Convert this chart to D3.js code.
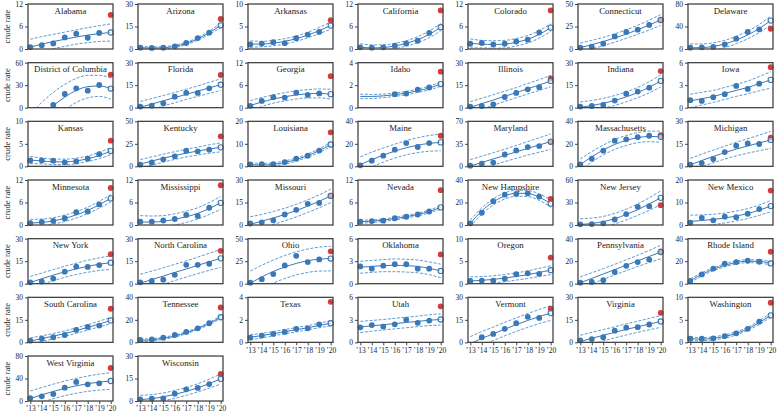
<!DOCTYPE html>
<html>
<head>
<meta charset="utf-8">
<script src="https://cdn.jsdelivr.net/npm/d3@7"></script>
<style>
  body { margin: 0; background: #fff; }
  text { font-family: "Liberation Serif", "Times New Roman", serif; fill: #222; }
</style>
</head>
<body>
<svg width="777" height="415"></svg>
<script>
const years = [2013, 2014, 2015, 2016, 2017, 2018, 2019, 2020];
const yearLabels = ["\u201913", "\u201914", "\u201915", "\u201916", "\u201917", "\u201918", "\u201919", "\u201920"];

const states = ["Alabama", "Arizona", "Arkansas", "California", "Colorado", "Connecticut", "Delaware",
  "District of Columbia", "Florida", "Georgia", "Idaho", "Illinois", "Indiana", "Iowa",
  "Kansas", "Kentucky", "Louisiana", "Maine", "Maryland", "Massachusetts", "Michigan",
  "Minnesota", "Mississippi", "Missouri", "Nevada", "New Hampshire", "New Jersey", "New Mexico",
  "New York", "North Carolina", "Ohio", "Oklahoma", "Oregon", "Pennsylvania", "Rhode Island",
  "South Carolina", "Tennessee", "Texas", "Utah", "Vermont", "Virginia", "Washington",
  "West Virginia", "Wisconsin"];

const yMax = [12, 30, 10, 12, 12, 50, 80,
  60, 30, 12, 4, 30, 30, 6,
  10, 50, 20, 40, 70, 40, 30,
  12, 12, 30, 12, 40, 60, 20,
  30, 30, 50, 6, 10, 40, 40,
  30, 40, 4, 6, 30, 30, 10,
  80, 30];

// observed crude rate 2013-2019
const observed = [
  [0.5, 1.0, 1.5, 3.1, 4.1, 3.0, 4.3],
  [0.9, 0.7, 0.9, 1.8, 4.0, 7.3, 10.9],
  [1.0, 1.2, 1.5, 1.3, 2.4, 3.2, 3.8],
  [0.45, 0.35, 0.45, 0.9, 1.5, 2.2, 4.3],
  [1.4, 1.6, 1.2, 1.4, 2.0, 2.5, 4.4],
  [1.5, 2.6, 5.9, 14, 18.9, 21.5, 26.7],
  [2.4, 3.0, 3.6, 8.3, 18.4, 30.2, 34.9],
  [null, null, 3.6, 18.2, 25.8, 22.7, 30.2],
  [0.7, 1.3, 2.9, 7.3, 9.8, 9.8, 12.9],
  [0.5, 1.8, 2.8, 2.7, 4.0, 3.4, 3.8],
  [null, null, null, 1.2, 1.25, 1.6, 1.8],
  [0.7, 1.1, 2.2, 7.1, 9.8, 12.2, 13.6],
  [0.7, 1.1, 1.8, 4.7, 9.3, 10.7, 13.3],
  [1.0, 0.9, 1.4, 1.8, 2.9, 2.5, 3.2],
  [1.3, 1.3, 1.25, 0.9, 1.1, 1.7, 2.7],
  [1.9, 4.4, 7.8, 11.1, 17.4, 16.7, 18.5],
  [0.9, 1.0, 1.0, 1.9, 3.4, 4.7, 7.0],
  [0.9, 5.0, 9.5, 14.8, 20.7, 17.2, 20.7],
  [1.0, 4.2, 5.8, 18.4, 24.7, 30, 31.6],
  [1.8, 6.8, 13.9, 22.8, 24, 26, 27.2],
  [1.1, 2.2, 4.9, 9.5, 13.8, 15.3, 14.9],
  [0.5, 0.8, 1.1, 1.8, 3.4, 3.6, 5.5],
  [0.9, 0.9, 1.2, 1.6, 2.7, 2.4, 4.6],
  [1.0, 1.8, 3.1, 7.0, 10.1, 14.1, 14.7],
  [0.9, 1.05, 1.15, 1.8, 2.2, 2.8, 3.6],
  [1.5, 10.9, 21.2, 27, 27.6, 28.2, 25.3],
  [0.9, 1.3, 2.2, 7.5, 14.6, 24.3, 25.1],
  [1.0, 3.2, 2.1, 3.7, 3.5, 5.0, 7.1],
  [0.9, 1.4, 3.4, 8.0, 11.4, 11.2, 12.4],
  [0.9, 1.8, 2.7, 5.9, 12.6, 12.6, 13.3],
  [1.1, 5, 10.7, 20.2, 30.9, 24, 27],
  [2.3, 2.0, 2.4, 2.6, 2.6, 2.0, 2.0],
  [0.6, 0.7, 0.7, 1.1, 2.1, 2.3, 2.2],
  [0.9, 1.5, 3.1, 10.4, 15.9, 19.2, 21.4],
  [2.4, 8.2, 13.4, 17.7, 19.2, 20.4, 19.5],
  [1.1, 2.5, 3.4, 4.9, 8.3, 10.3, 11.2],
  [2.1, 2.7, 4.2, 6.6, 9.3, 12.5, 17],
  [0.42, 0.6, 0.75, 0.93, 1.2, 1.25, 1.6],
  [2.0, 2.3, 2.1, 2.4, 3.0, 2.6, 2.9],
  [null, 3.4, 5.6, 9.0, 12.8, 17, 16.3],
  [1.3, 2.2, 3.4, 7.8, 9.8, 10.1, 11.9],
  [0.8, 0.8, 0.9, 1.4, 2.0, 3.0, 4.6],
  [5.3, 8.3, 12.4, 23.7, 33.8, 29.6, 31.4],
  [1.1, 1.6, 1.8, 4.9, 7.8, 8.7, 11.3]
];

// observed 2020 value (red)
const actual2020 = [9.1, 20, 6.4, 10.3, 10.3, 32, 36,
  44, 21.8, 8.4, 3.2, 19.5, 24.4, 5.4,
  5.7, 33.3, 15.1, 27.2, 37.9, 27.8, 19.1,
  9.9, 10.6, 19.5, 9.3, 23.2, 26.5, 15.3,
  19.7, 21.9, 35.9, 3.9, 5.8, 28.7, 28.4,
  22.4, 31, 3.6, 4.8, 22.4, 19.7, 8.8,
  58.7, 18];

// fitted trend 2013-2020 (last value = 2020 prediction)
const fitted = [
  [0.5, 1.3, 2.0, 2.6, 3.2, 3.7, 4.1, 4.4],
  [1.0, 0.6, 0.8, 1.8, 3.7, 6.8, 10.8, 15.8],
  [1.1, 1.1, 1.3, 1.7, 2.3, 3.1, 4.1, 5.2],
  [0.5, 0.3, 0.4, 0.8, 1.5, 2.5, 3.9, 5.8],
  [1.5, 1.3, 1.2, 1.3, 1.8, 2.6, 3.9, 5.7],
  [1.5, 4.8, 8.3, 12.2, 16.6, 21.4, 26.6, 32.2],
  [2, 2.5, 4.5, 9, 16, 25, 36.5, 50.5],
  [-30, -12, 2.5, 14, 23, 28, 29, 25.5],
  [0.3, 2.4, 4.6, 6.7, 8.9, 11, 13.2, 15.3],
  [0.6, 1.5, 2.3, 2.9, 3.4, 3.7, 3.8, 3.6],
  [1.0, 1.0, 1.05, 1.15, 1.3, 1.5, 1.75, 2.1],
  [0.2, 2.7, 5.1, 7.6, 10, 12.6, 15.1, 17.8],
  [0.2, 1.4, 2.9, 4.8, 7.2, 10.1, 13.6, 17.8],
  [0.9, 1.2, 1.5, 1.9, 2.3, 2.7, 3.2, 3.7],
  [1.4, 1.2, 1.0, 1.0, 1.2, 1.7, 2.4, 3.4],
  [2.5, 5.9, 9.1, 12, 14.7, 17, 19.2, 21.1],
  [0.8, 0.6, 0.9, 1.7, 3.0, 4.8, 7.0, 9.7],
  [1.5, 6, 10, 13.5, 16.5, 18.8, 20.4, 21.3],
  [0.5, 6, 11.5, 17, 22.5, 28, 33.2, 38.4],
  [1.5, 8.5, 14.5, 19.5, 23, 25.5, 26.6, 26.3],
  [1.0, 3.9, 6.6, 9.1, 11.5, 13.6, 15.6, 17.6],
  [0.5, 0.7, 1.1, 1.8, 2.7, 3.9, 5.4, 7.1],
  [0.8, 0.8, 1.0, 1.5, 2.2, 3.1, 4.4, 5.9],
  [0.5, 2.5, 4.7, 7.0, 9.6, 12.6, 15.8, 19.4],
  [0.9, 1.0, 1.3, 1.7, 2.2, 2.8, 3.6, 4.7],
  [1.5, 12.5, 20.5, 25.8, 28.3, 28, 24.8, 19],
  [0.8, 2, 4.5, 8.5, 14, 20.5, 28, 36.2],
  [1.6, 2.0, 2.5, 3.1, 4.0, 5.1, 6.6, 8.4],
  [0.8, 3.3, 5.7, 7.9, 9.9, 11.6, 13, 14],
  [0.3, 2.7, 5.1, 7.5, 9.8, 12.2, 14.6, 16.9],
  [0.5, 7.5, 13.5, 18.5, 22.5, 25.5, 27.3, 27.9],
  [2.2, 2.3, 2.4, 2.45, 2.4, 2.3, 2.05, 1.7],
  [0.6, 0.75, 0.95, 1.25, 1.6, 2.0, 2.5, 3.0],
  [0.8, 4.7, 8.6, 12.5, 16.4, 20.3, 24.2, 28.1],
  [2.6, 8.3, 12.8, 16.3, 18.8, 20.0, 19.8, 18.0],
  [0.9, 2.5, 4.1, 5.9, 7.8, 10, 12.2, 14.6],
  [1.8, 2.3, 3.6, 5.6, 8.5, 12.3, 16.8, 22.3],
  [0.45, 0.6, 0.77, 0.95, 1.12, 1.3, 1.5, 1.7],
  [2.05, 2.2, 2.35, 2.5, 2.65, 2.8, 2.95, 3.05],
  [-1, 2.6, 5.7, 8.8, 11.8, 14.6, 17.2, 19.5],
  [0.5, 2.7, 4.7, 6.7, 8.6, 10.4, 12.2, 13.9],
  [0.8, 0.7, 0.9, 1.3, 2.0, 3.0, 4.4, 6.0],
  [4.5, 11, 17, 22.5, 27, 30.8, 33.6, 35.6],
  [0.9, 1.6, 2.8, 4.4, 6.4, 8.8, 11.6, 14.7]
];

// half width of the dashed interval around the trend
const bandHalf = [
  [2.1, 2.0, 1.9, 1.9, 1.9, 2.0, 2.1, 2.3],
  [0.9, 0.8, 0.8, 0.8, 0.8, 0.9, 1.1, 1.5],
  [0.7, 0.6, 0.6, 0.6, 0.6, 0.6, 0.7, 0.8],
  [0.9, 0.8, 0.7, 0.7, 0.7, 0.8, 0.9, 1.0],
  [1.2, 1.0, 1.0, 1.0, 1.0, 1.0, 1.0, 1.0],
  [5, 4.8, 4.6, 4.6, 4.7, 5, 5.5, 6],
  [7, 6.5, 6.5, 6.5, 6.5, 6.8, 7.3, 8],
  [20, 19, 18, 17, 16, 15, 14, 14],
  [3.9, 3.7, 3.5, 3.4, 3.4, 3.5, 3.7, 3.9],
  [1.3, 1.2, 1.1, 1.1, 1.1, 1.1, 1.2, 1.3],
  [0.2, 0.18, 0.16, 0.15, 0.15, 0.15, 0.17, 0.2],
  [3.8, 3.6, 3.5, 3.4, 3.4, 3.5, 3.6, 3.8],
  [3.6, 3.4, 3.3, 3.3, 3.3, 3.4, 3.7, 4.0],
  [0.9, 0.85, 0.8, 0.8, 0.8, 0.85, 0.95, 1.1],
  [0.8, 0.65, 0.6, 0.6, 0.6, 0.6, 0.7, 0.8],
  [5, 4.6, 4.4, 4.3, 4.3, 4.4, 4.7, 5],
  [0.8, 0.7, 0.7, 0.7, 0.7, 0.7, 0.8, 1.0],
  [7, 6.6, 6.3, 6.2, 6.3, 6.6, 7, 7.5],
  [10, 9.8, 9.7, 9.7, 10, 10.5, 11.2, 12],
  [5, 4.6, 4.4, 4.4, 4.4, 4.5, 4.7, 5],
  [4.3, 4.2, 4.2, 4.3, 4.5, 4.8, 5.2, 5.7],
  [1.0, 0.9, 0.85, 0.85, 0.85, 0.85, 0.9, 1.0],
  [1.7, 1.6, 1.5, 1.5, 1.5, 1.5, 1.6, 1.7],
  [5, 4.6, 4.3, 4.2, 4.2, 4.2, 4.3, 4.5],
  [0.4, 0.35, 0.35, 0.35, 0.35, 0.35, 0.4, 0.45],
  [3, 2.8, 2.7, 2.7, 2.7, 2.7, 2.9, 3.2],
  [7.6, 7.2, 7, 7, 7.2, 7.6, 8.3, 9.2],
  [2.8, 2.5, 2.3, 2.2, 2.2, 2.2, 2.3, 2.5],
  [4, 3.8, 3.7, 3.7, 3.8, 4, 4.2, 4.5],
  [6, 5.7, 5.5, 5.4, 5.4, 5.5, 5.7, 6],
  [13.5, 13, 12.8, 12.8, 12.8, 13, 13.3, 13.7],
  [0.8, 0.8, 0.8, 0.85, 0.85, 0.85, 0.85, 0.9],
  [0.9, 0.85, 0.8, 0.8, 0.8, 0.85, 0.9, 1.0],
  [5.3, 5, 4.8, 4.7, 4.8, 5, 5.4, 6],
  [1.6, 1.4, 1.3, 1.3, 1.3, 1.3, 1.4, 1.6],
  [2, 1.9, 1.8, 1.8, 1.8, 1.8, 1.9, 2.1],
  [1.1, 1.0, 0.9, 0.9, 0.9, 0.9, 1.0, 1.2],
  [0.22, 0.2, 0.19, 0.19, 0.19, 0.19, 0.2, 0.22],
  [0.75, 0.72, 0.7, 0.7, 0.7, 0.7, 0.72, 0.75],
  [4.8, 4.6, 4.5, 4.5, 4.5, 4.6, 4.7, 4.9],
  [4.2, 4.0, 3.8, 3.7, 3.7, 3.7, 3.8, 3.9],
  [0.4, 0.35, 0.35, 0.35, 0.35, 0.35, 0.4, 0.45],
  [13.3, 13, 13, 13, 13.2, 13.6, 14.2, 14.8],
  [2.9, 2.7, 2.6, 2.6, 2.6, 2.7, 3.0, 3.3]
];

const blue = "#3a78b6", dashBlue = "#4a8fd0", red = "#d83a3a";
const ncol = 7, left0 = 28, colStep = 110, top0 = 4, rowStep = 58.67;
const pw = 85, ph = 45;

const svg = d3.select("svg");
svg.append("defs").append("clipPath").attr("id", "clip")
  .append("rect").attr("width", pw).attr("height", ph);

const x = d3.scaleLinear().domain([2012.8, 2020.2]).range([0, pw]);

states.forEach((name, i) => {
  const col = i % ncol, row = Math.floor(i / ncol);
  const g = svg.append("g")
    .attr("transform", `translate(${left0 + col * colStep},${top0 + row * rowStep})`);
  const y = d3.scaleLinear().domain([0, yMax[i]]).range([ph, 0]);

  // y axis
  const ya = g.append("g")
    .call(d3.axisLeft(y).tickValues([0, yMax[i] / 2, yMax[i]]).tickFormat(d3.format("~g"))
      .tickSize(3).tickPadding(2));
  ya.select(".domain").remove();
  ya.selectAll("line").attr("stroke", "#444");
  ya.selectAll("text").style("font-size", "7.5px").attr("fill", "#222");

  // x axis only on the bottom panel of each column
  if (i + ncol >= states.length) {
    const xa = g.append("g").attr("transform", `translate(0,${ph})`)
      .call(d3.axisBottom(x).tickValues(years).tickFormat((d, k) => yearLabels[k]).tickSize(3).tickPadding(2));
    xa.select(".domain").remove();
    xa.selectAll("line").attr("stroke", "#444");
    xa.selectAll("text").style("font-size", "7.5px").attr("fill", "#222");
  }

  const line = d3.line().x(d => x(d[0])).y(d => y(d[1])).curve(d3.curveMonotoneX);
  const fit = years.map((yr, k) => [yr, fitted[i][k]]);
  const hi = years.map((yr, k) => [yr, fitted[i][k] + bandHalf[i][k]]);
  const lo = years.map((yr, k) => [yr, fitted[i][k] - bandHalf[i][k]]);

  const curves = g.append("g").attr("clip-path", "url(#clip)");
  [hi, lo].forEach(d => curves.append("path").attr("d", line(d))
    .attr("fill", "none").attr("stroke", dashBlue).attr("stroke-width", 0.9)
    .attr("stroke-dasharray", "3,1.6"));
  curves.append("path").attr("d", line(fit))
    .attr("fill", "none").attr("stroke", blue).attr("stroke-width", 1);

  // observed points
  const pts = observed[i].map((v, k) => [years[k], v]).filter(d => d[1] !== null);
  g.selectAll(".pt").data(pts).join("circle")
    .attr("cx", d => x(d[0])).attr("cy", d => y(d[1])).attr("r", 2.9)
    .attr("fill", blue);

  // 2020 observed (red) and predicted (hollow)
  g.append("circle").attr("cx", x(2020)).attr("cy", y(actual2020[i])).attr("r", 2.9)
    .attr("fill", red);
  g.append("circle").attr("cx", x(2020)).attr("cy", y(fitted[i][7])).attr("r", 2.6)
    .attr("fill", "rgba(255,255,255,0.55)").attr("stroke", blue).attr("stroke-width", 1.1);

  // frame
  g.append("rect").attr("width", pw).attr("height", ph)
    .attr("fill", "none").attr("stroke", "#444").attr("stroke-width", 1.3);

  g.append("text").attr("x", pw / 2).attr("y", 9.5).attr("text-anchor", "middle")
    .style("font-size", "8.8px").text(name);
});

// row labels
d3.range(Math.ceil(states.length / ncol)).forEach(r => {
  svg.append("text")
    .attr("transform", `translate(10,${top0 + r * rowStep + ph / 2}) rotate(-90)`)
    .attr("text-anchor", "middle").style("font-size", "8.5px").text("crude rate");
});
</script>
</body>
</html>
